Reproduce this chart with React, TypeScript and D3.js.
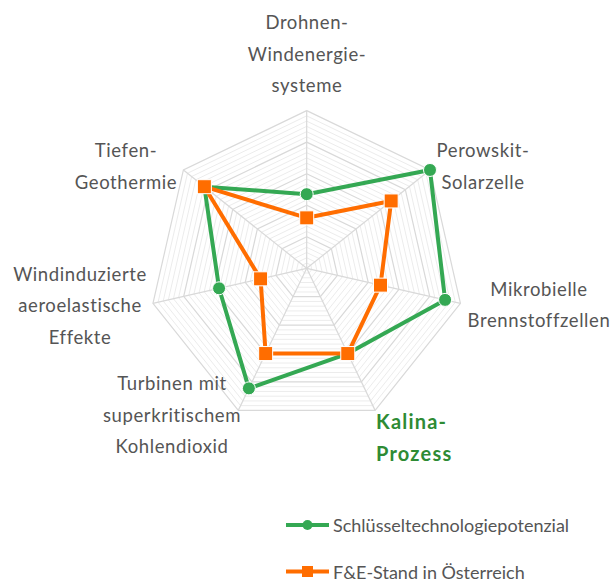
import * as d3 from "d3";
import React from "react";

const axes = [
  ["Drohnen-", "Windenergie-", "systeme"],
  ["Perowskit-", "Solarzelle"],
  ["Mikrobielle", "Brennstoffzellen"],
  ["Kalina-", "Prozess"],
  ["Turbinen mit", "superkritischem", "Kohlendioxid"],
  ["Windinduzierte", "aeroelastische", "Effekte"],
  ["Tiefen-", "Geothermie"],
];
const seriesNames = ["Schlüsseltechnologiepotenzial", "F&E-Stand in Österreich"];
const potenzial = [4.7, 10, 9.0, 6.0, 8.45, 5.7, 8.3];
const forschung = [3.2, 6.85, 4.8, 6.0, 6.0, 3.0, 8.3];
const highlighted = 3;

const width = 614;
const height = 583;
const cx = 306.7;
const cy = 268.3;
const radius = 157.7;
const green = "#34a853";
const orange = "#ff6d00";
const textColor = "#555";
const font = "Lato, 'Open Sans', sans-serif";

// label anchors: [x, y of first line center, anchor]
const labelPos: [number, number, string][] = [
  [307, 22, "middle"],
  [483, 150, "middle"],
  [539, 288.5, "middle"],
  [376, 421, "start"],
  [172, 383, "middle"],
  [80, 273.5, "middle"],
  [126, 150, "middle"],
];

const App = () => {
  const n = axes.length;
  const angle = d3.scaleLinear().domain([0, n]).range([0, 2 * Math.PI]);
  const r = d3.scaleLinear().domain([0, 10]).range([0, radius]);
  const pt = (i: number, v: number): [number, number] => {
    const a = angle(i);
    return [cx + r(v) * Math.sin(a), cy - r(v) * Math.cos(a)];
  };
  const ring = (v: number) =>
    d3.line()(d3.range(n + 1).map((i) => pt(i % n, v))) || "";
  const radarLine = d3.line().curve(d3.curveLinearClosed);

  const minor = d3.range(1, 31).map((k) => k / 3).filter((v) => Math.abs(v / 2 - Math.round(v / 2)) > 0.01);
  const major = [2, 4, 6, 8, 10];

  const series = [
    { name: seriesNames[0], values: potenzial, color: green, shape: "circle" },
    { name: seriesNames[1], values: forschung, color: orange, shape: "square" },
  ];

  const marker = (shape: string, x: number, y: number, color: string, key: any) =>
    shape === "circle" ? (
      <circle key={key} cx={x} cy={y} r={6.5} fill={color} stroke="#fff" strokeWidth={1} />
    ) : (
      <rect key={key} x={x - 7} y={y - 7} width={14} height={14} fill={color} stroke="#fff" strokeWidth={1} />
    );

  return (
    <svg width={width} height={height} style={{ position: "absolute", left: 0, top: 0 }}>
      <rect width={width} height={height} fill="#fff" />
      <g fill="none">
        {minor.map((v) => (
          <path key={"m" + v} d={ring(v)} stroke="#ececec" strokeWidth={1} />
        ))}
        {major.map((v) => (
          <path key={"M" + v} d={ring(v)} stroke="#d9d9d9" strokeWidth={1.2} />
        ))}
        {axes.map((_, i) => {
          const [x, y] = pt(i, 10);
          return <line key={"s" + i} x1={cx} y1={cy} x2={x} y2={y} stroke="#d9d9d9" strokeWidth={1.2} />;
        })}
      </g>
      {series.map((s) => (
        <g key={s.name}>
          <path
            d={radarLine(s.values.map((v, i) => pt(i, v))) || ""}
            fill="none"
            stroke={s.color}
            strokeWidth={4}
            strokeLinejoin="round"
          />
          {s.values.map((v, i) => {
            const [x, y] = pt(i, v);
            return marker(s.shape, x, y, s.color, i);
          })}
        </g>
      ))}
      {axes.map((lines, i) => {
        const [x, y0, anchor] = labelPos[i];
        const hl = i === highlighted;
        return (
          <text
            key={"l" + i}
            x={x}
            textAnchor={anchor}
            fontFamily={font}
            fontSize={hl ? 20 : 18.5}
            fontWeight={hl ? 700 : 400}
            letterSpacing={hl ? 1.2 : 0.6}
            fill={hl ? "#2e8b34" : textColor}
          >
            {lines.map((t, j) => (
              <tspan key={j} x={x} y={y0 + j * 31.5} dominantBaseline="central">
                {t}
              </tspan>
            ))}
          </text>
        );
      })}
      {series.map((s, k) => {
        const y = 525 + k * 46.5;
        return (
          <g key={"lg" + k}>
            <line x1={286} x2={329} y1={y} y2={y} stroke={s.color} strokeWidth={4} />
            {s.shape === "circle" ? (
              <circle cx={307.5} cy={y} r={5} fill={s.color} />
            ) : (
              <rect x={302} y={y - 5.5} width={11} height={11} fill={s.color} />
            )}
            <text x={333} y={y} dominantBaseline="central" fontFamily={font} fontSize={18} fill={textColor}>
              {s.name}
            </text>
          </g>
        );
      })}
    </svg>
  );
};

export default App;
